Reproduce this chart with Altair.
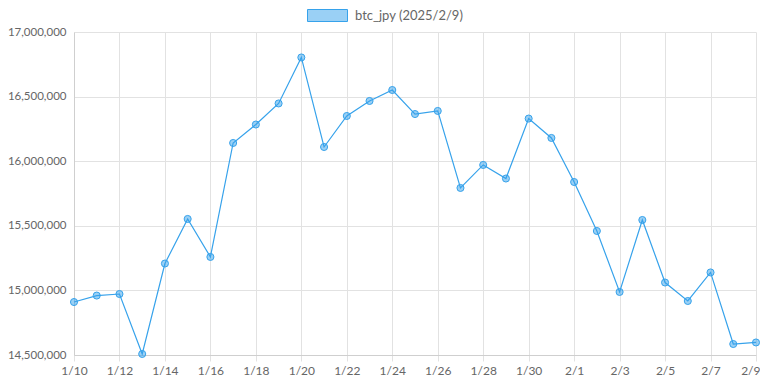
import altair as alt
import pandas as pd

dates = ["1/10", "1/11", "1/12", "1/13", "1/14", "1/15", "1/16", "1/17", "1/18", "1/19",
         "1/20", "1/21", "1/22", "1/23", "1/24", "1/25", "1/26", "1/27", "1/28", "1/29",
         "1/30", "1/31", "2/1", "2/2", "2/3", "2/4", "2/5", "2/6", "2/7", "2/8", "2/9"]
prices = [14910000, 14960000, 14972000, 14508000, 15208000, 15553000, 15259000, 16141000,
          16284000, 16447000, 16803000, 16110000, 16350000, 16466000, 16551000, 16365000,
          16389000, 15793000, 15971000, 15866000, 16330000, 16180000, 15839000, 15460000,
          14988000, 15545000, 15061000, 14918000, 15139000, 14585000, 14597000]
series_name = "btc_jpy (2025/2/9)"
y_ticks = [14500000, 15000000, 15500000, 16000000, 16500000, 17000000]

df = pd.DataFrame({"date": dates, "price": prices, "series": series_name})

BLUE = "#36a2eb"
FILL = "rgba(54,162,235,0.5)"
GRID = "#e2e2e2"
FONT = "Lato"
last_test = "datum.label == '%s'" % dates[-1]

x = alt.X("date:O", sort=dates,
          scale=alt.Scale(type="point", padding=0),
          axis=alt.Axis(values=dates[::2], title=None, labelAngle=0,
                        labelFont=FONT, labelFontSize=12, labelColor="#666",
                        labelAlign={"condition": {"test": last_test, "value": "right"}, "value": "center"},
                        labelOffset={"condition": {"test": last_test, "value": 4}, "value": 0},
                        grid=True, gridColor=GRID, domainColor="#cfcfcf",
                        tickColor=GRID, tickSize=6, labelPadding=4))
y = alt.Y("price:Q", scale=alt.Scale(domain=[14500000, 17000000], nice=False, zero=False),
          axis=alt.Axis(values=y_ticks, format=",d", title=None,
                        labelFont=FONT, labelFontSize=11.5, labelColor="#666",
                        grid=True, gridColor=GRID, domainColor="#cfcfcf",
                        ticks=False, labelPadding=8))

color = alt.Color("series:N", scale=alt.Scale(range=[BLUE]),
                  legend=alt.Legend(orient="none", legendX=233, legendY=-37, title=None,
                                    symbolType="M-1,-0.3H1V0.3H-1Z", symbolSize=1600,
                                    symbolFillColor=FILL, symbolStrokeColor=BLUE,
                                    symbolStrokeWidth=1, labelOffset=7,
                                    labelFont=FONT, labelFontSize=13, labelColor="#666"))

line = alt.Chart(df).mark_line(strokeWidth=1.2).encode(x=x, y=y, color=color)
pts = alt.Chart(df).mark_point(filled=False, size=50, fill=FILL, stroke=BLUE,
                               strokeWidth=1, opacity=1).encode(x=x, y=y)

chart = alt.layer(line, pts).properties(
    width=682, height=323,
    padding={"left": 66, "top": 24, "right": 4, "bottom": 21},
    autosize=alt.AutoSizeParams(type="none"),
).configure_view(stroke=None)

chart.save("out.html", embed_options={"renderer": "svg", "actions": False})
